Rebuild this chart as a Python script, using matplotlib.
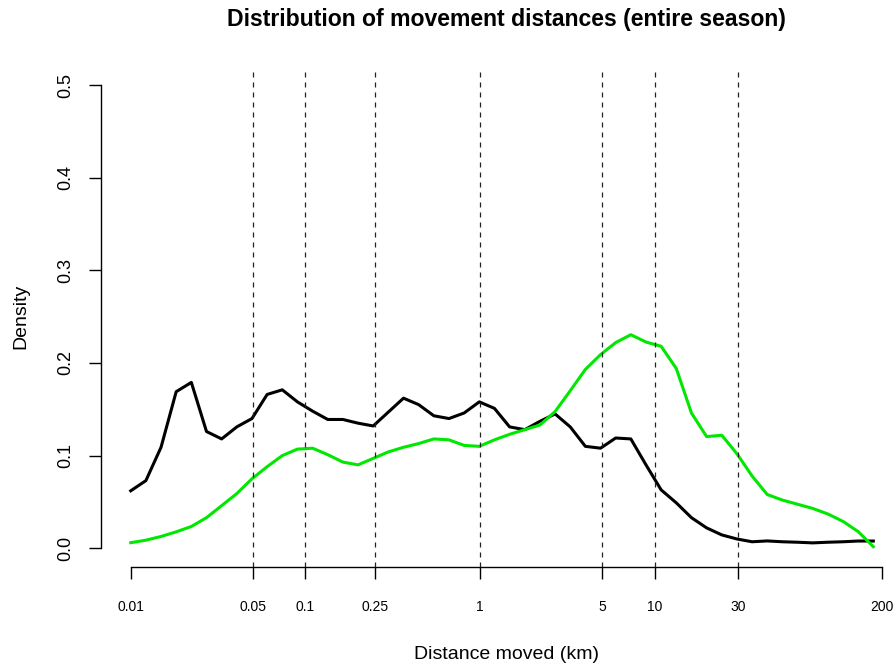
import matplotlib
matplotlib.use("Agg")
import matplotlib.pyplot as plt
import numpy as np

plt.rcParams['font.family'] = ['Liberation Sans', 'DejaVu Sans']

# density evaluated on a log-spaced grid of distances (km)
dist_km = np.logspace(-2, 2.253, 50)

density_black = [0.062, 0.073, 0.109, 0.169, 0.179, 0.126, 0.118, 0.131, 0.140, 0.166,
                 0.171, 0.158, 0.148, 0.139, 0.139, 0.135, 0.132, 0.147, 0.162, 0.155,
                 0.143, 0.140, 0.146, 0.158, 0.151, 0.131, 0.128, 0.137, 0.145, 0.131,
                 0.110, 0.108, 0.119, 0.118, 0.090, 0.063, 0.049, 0.033, 0.022, 0.0144,
                 0.010, 0.007, 0.0079, 0.007, 0.0065, 0.0058, 0.0065, 0.007, 0.0078, 0.0078]

density_green = [0.006, 0.0087, 0.0127, 0.0177, 0.0235, 0.033, 0.046, 0.059, 0.075, 0.088,
                 0.100, 0.107, 0.108, 0.101, 0.093, 0.090, 0.097, 0.104, 0.109, 0.113,
                 0.118, 0.117, 0.111, 0.110, 0.117, 0.123, 0.128, 0.133, 0.1475, 0.170,
                 0.193, 0.209, 0.222, 0.2305, 0.2226, 0.218, 0.194, 0.146, 0.1205, 0.122,
                 0.102, 0.078, 0.058, 0.052, 0.0475, 0.043, 0.037, 0.029, 0.018, 0.0017]

x_ticks = [0.01, 0.05, 0.1, 0.25, 1, 5, 10, 30, 200]
x_tick_labels = ["0.01", "0.05", "0.1", "0.25", "1", "5", "10", "30", "200"]
ref_lines = [0.05, 0.1, 0.25, 1, 5, 10, 30]
y_ticks = [0.0, 0.1, 0.2, 0.3, 0.4, 0.5]

fig = plt.figure(figsize=(8.95, 6.65), dpi=100)
ax = fig.add_axes([0.1125, 0.1477, 0.9062, 0.7523])

ax.plot(dist_km, density_black, color='black', lw=2.2)
ax.plot(dist_km, density_green, color='#00e800', lw=2.2)

for v in ref_lines:
    ax.axvline(v, color='#222222', lw=0.9, linestyle=(0, (4, 4)))

ax.set_xscale('log')
lo, hi = np.log10(0.01), np.log10(200)
pad = 0.04 * (hi - lo)
ax.set_xlim(10 ** (lo - pad), 10 ** (hi + pad))
ax.set_ylim(-0.02, 0.52)

ax.set_xticks(x_ticks)
ax.set_xticklabels(x_tick_labels)
ax.xaxis.set_minor_locator(matplotlib.ticker.NullLocator())
ax.set_yticks(y_ticks)
ax.set_yticklabels([f"{t:.1f}" for t in y_ticks], rotation=90, va='center')

for s in ['top', 'right']:
    ax.spines[s].set_visible(False)
ax.spines['left'].set_bounds(0, 0.5)
ax.spines['bottom'].set_bounds(0.01, 200)
ax.spines['left'].set_linewidth(1.0)
ax.spines['bottom'].set_linewidth(1.0)

ax.tick_params(axis='x', length=8.5, width=1.0, pad=15.5, labelsize=10)
ax.tick_params(axis='y', length=8.5, width=1.0, pad=10.5, labelsize=13)

ax.set_xlabel("Distance moved (km)", fontsize=14, labelpad=23)
ax.set_ylabel("Density", fontsize=14, labelpad=20)
ax.set_title("Distribution of movement distances (entire season)",
             fontsize=16.6, fontweight='bold', pad=29)

fig.savefig("out.png", dpi=100)
